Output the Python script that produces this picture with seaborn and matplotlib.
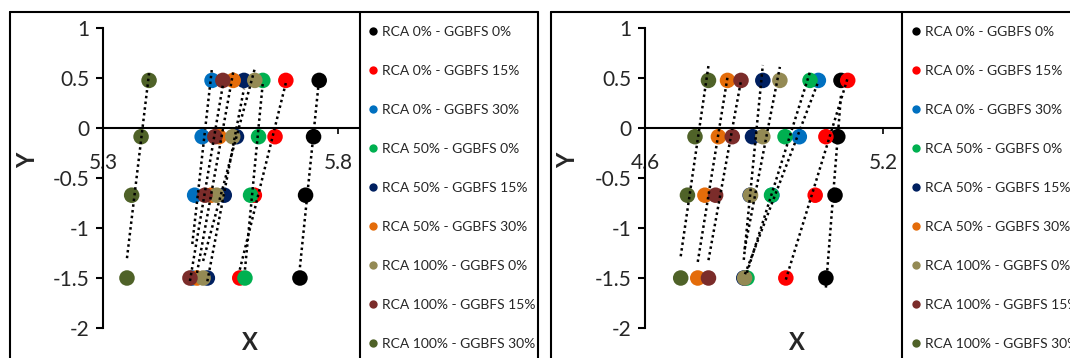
import numpy as np
import pandas as pd
import matplotlib
matplotlib.use("Agg")
import matplotlib.pyplot as plt
from matplotlib.lines import Line2D
from matplotlib.ticker import FixedLocator, FuncFormatter
import seaborn as sns

# ---------------- data ----------------
series_names = ["RCA 0% - GGBFS 0%", "RCA 0% - GGBFS 15%", "RCA 0% - GGBFS 30%",
                "RCA 50% - GGBFS 0%", "RCA 50% - GGBFS 15%", "RCA 50% - GGBFS 30%",
                "RCA 100% - GGBFS 0%", "RCA 100% - GGBFS 15%", "RCA 100% - GGBFS 30%"]
series_colors = ["#000000", "#FF0000", "#0070C0", "#00B050", "#002060",
                 "#E46C0A", "#948A54", "#7B2C2A", "#4F6228"]
y_values = [0.476, -0.087, -0.672, -1.50]

# left panel: x value of each series at each y level
left_x = [
    [5.760, 5.748, 5.731, 5.719],
    [5.689, 5.666, 5.622, 5.591],
    [5.532, 5.511, 5.495, 5.490],
    [5.640, 5.631, 5.614, 5.602],
    [5.600, 5.584, 5.558, 5.522],
    [5.577, 5.547, 5.530, 5.500],
    [5.623, 5.576, 5.542, 5.513],
    [5.555, 5.538, 5.517, 5.485],
    [5.398, 5.381, 5.361, 5.351],
]
# right panel
right_x = [
    [5.094, 5.086, 5.079, 5.056],
    [5.111, 5.056, 5.029, 4.955],
    [5.037, 4.989, 4.920, 4.852],
    [5.016, 4.953, 4.919, 4.857],
    [4.897, 4.871, 4.865, 4.849],
    [4.808, 4.785, 4.751, 4.733],
    [4.940, 4.897, 4.866, 4.851],
    [4.842, 4.820, 4.778, 4.760],
    [4.760, 4.726, 4.707, 4.690],
]
left_xticks = [5.3, 5.8]
right_xticks = [4.6, 5.2]
y_ticks = [-2, -1.5, -1, -0.5, 0, 0.5, 1]

# ---------------- style ----------------
sns.set_style("white")
plt.rcParams["font.family"] = ["Lato", "DejaVu Sans"]
plt.rcParams["axes.unicode_minus"] = False

W, H = 1070, 358
fig = plt.figure(figsize=(W / 100, H / 100), dpi=100)


def fx(px):
    return px / W


def fy(py):
    return 1 - py / H


def make_df(xs):
    rows = []
    for name, vals in zip(series_names, xs):
        for xv, yv in zip(vals, y_values):
            rows.append({"x": xv, "y": yv, "series": name})
    return pd.DataFrame(rows)


def draw_panel(ax, xs, xlim, xticks, xlab_pos, ylab_pos):
    df = make_df(xs)
    sns.scatterplot(data=df, x="x", y="y", hue="series", hue_order=series_names,
                    palette=series_colors, s=125, edgecolor="none", linewidth=0,
                    legend=False, ax=ax, zorder=3)
    for name in series_names:
        sub = df[df.series == name]
        sns.regplot(data=sub, x="x", y="y", scatter=False, ci=None, truncate=True,
                    ax=ax, line_kws=dict(color="black", lw=1.8,
                                         ls=(0, (1, 1.3)), zorder=4))
    ax.set_xlim(*xlim)
    ax.set_ylim(-2, 1)
    for s in ["top", "right"]:
        ax.spines[s].set_visible(False)
    ax.spines["bottom"].set_position(("data", 0))
    for s in ["left", "bottom"]:
        ax.spines[s].set_color("black")
        ax.spines[s].set_linewidth(1.5)
    ax.xaxis.set_major_locator(FixedLocator(xticks))
    ax.yaxis.set_major_locator(FixedLocator(y_ticks))
    ax.xaxis.set_major_formatter(FuncFormatter(lambda v, p: f"{v:g}"))
    ax.yaxis.set_major_formatter(FuncFormatter(lambda v, p: f"{v:g}"))
    ax.tick_params(axis="y", direction="out", length=5, width=1.5, color="black",
                   labelsize=15, pad=5, left=True)
    ax.tick_params(axis="x", direction="out", length=4, width=1.2, color="black",
                   labelsize=15, pad=14, bottom=True)
    ax.set_xlabel("X", fontsize=17, fontweight="bold")
    ax.set_ylabel("Y", fontsize=17, fontweight="bold")
    ax.xaxis.set_label_coords(*xlab_pos)
    ax.yaxis.set_label_coords(*ylab_pos)
    ax.grid(False)
    ax.patch.set_alpha(0)


axL = fig.add_axes([fx(103), fy(328), fx(255), 300 / H])
axR = fig.add_axes([fx(645), fy(328), fx(257), 300 / H])

draw_panel(axL, left_x, (5.3, 5.3 + 255 / 470), left_xticks, (0.576, -0.01), (-0.25, 0.56))
draw_panel(axR, right_x, (4.6, 4.6 + 257 / 396.7), right_xticks, (0.59, -0.01), (-0.255, 0.56))

# legends
handles = [Line2D([], [], marker="o", ls="", color=c, markersize=6, markeredgewidth=0)
           for c in series_colors]
for x0 in (368, 911):
    fig.legend(handles, series_names, loc="upper left",
               bbox_to_anchor=(fx(x0), fy(26)), frameon=False, fontsize=10,
               labelspacing=1.94, handlelength=0.65, handletextpad=0.35,
               borderpad=0, borderaxespad=0)

# chart frames
frame_kw = dict(color="black", lw=1.5, transform=fig.transFigure, clip_on=False)
segments = [
    ((10, 10), (12, 358)), ((10, 538), (12, 12)), ((538, 538), (12, 358)),
    ((360, 360), (12, 358)),
    ((551, 551), (12, 358)), ((551, 1070), (12, 12)), ((902, 902), (12, 358)),
]
for (xa, xb), (ya, yb) in segments:
    fig.add_artist(Line2D([fx(xa), fx(xb)], [fy(ya), fy(yb)], **frame_kw))

fig.savefig("out.png", dpi=100)
